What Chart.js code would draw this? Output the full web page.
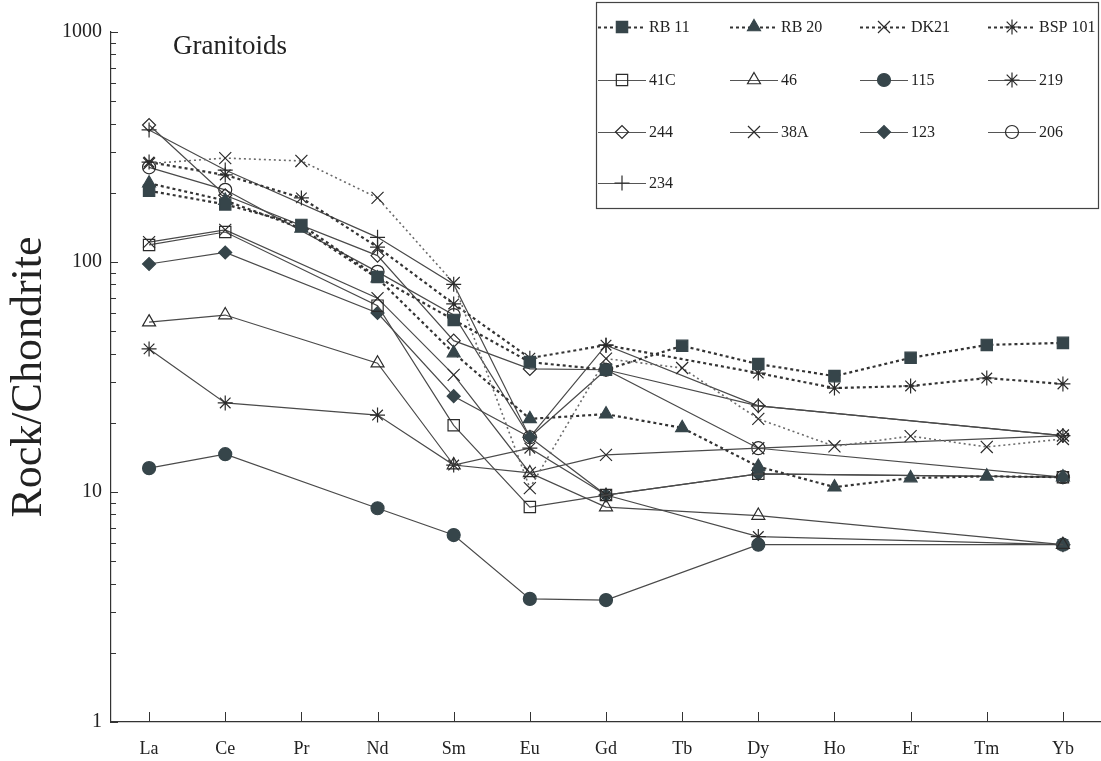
<!DOCTYPE html>
<html>
<head>
<meta charset="utf-8">
<title>Granitoids REE</title>
<script src="https://cdn.jsdelivr.net/npm/chart.js@4/dist/chart.umd.min.js"></script>
<style>
  html, body { margin: 0; padding: 0; background: #fff; }
  #wrap { width: 1101px; height: 761px; }
</style>
</head>
<body>
<div id="wrap"><canvas id="c" width="1101" height="761"></canvas></div>
<script>
// Chondrite-normalised REE abundances
const elements = ['La', 'Ce', 'Pr', 'Nd', 'Sm', 'Eu', 'Gd', 'Tb', 'Dy', 'Ho', 'Er', 'Tm', 'Yb'];
const yTickValues = [1, 10, 100, 1000];

const rb11   = [204, 178, 145, 86, 56, 36.7, 34, 43.2, 36, 31.9, 38.3, 43.6, 44.5];
const rb20   = [220, 185, 140, 85, 40.2, 20.8, 21.8, 19, 12.9, 10.5, 11.5, 11.7, 11.6];
const dk21   = [268, 283, 275, 190, 81, 10.4, 38, 34.6, 20.8, 15.8, 17.5, 15.7, 17.0];
const bsp101 = [272, 239, 190, 116, 65.7, 38.2, 43.5, null, 32.9, 28.3, 28.9, 31.3, 29.5];
const s41C   = [118.6, 135, null, 64.6, 19.5, 8.6, 9.7, null, 12.0, null, null, null, 11.6];
const s46    = [54.8, 58.8, null, 36.3, 13.1, 12.1, 8.6, null, 7.9, null, null, null, 5.9];
const s115   = [12.7, 14.6, null, 8.5, 6.5, 3.43, 3.39, null, 5.9, null, null, null, 5.9];
const s219   = [41.9, 24.4, null, 21.6, 13.1, 15.5, 9.7, null, 6.4, null, null, null, 5.9];
const s244   = [394, 195, null, 106.6, 45.5, 34.3, 34, null, 23.7, null, null, null, 17.6];
const s38A   = [122, 138, null, 69.6, 32.3, 12.1, 14.5, null, 15.5, null, null, null, 17.6];
const s123   = [98, 110, null, 60, 26.1, 17.3, 9.7, null, 12.0, null, null, null, 11.6];
const s206   = [258, 206, null, 90.6, 58.8, 17.3, 34, null, 15.5, null, null, null, 11.6];
const s234   = [375, 251, null, 128, 80, 17.3, 43.5, null, 23.7, null, null, null, 17.6];

const INK = '#36454a';
const LINE = '#4a4a4a';
const SERIF = '"Liberation Serif", "DejaVu Serif", serif';

function series(label, data, opts) {
  const dotted = opts.dotted;
  return {
    label: label,
    data: data,
    spanGaps: true,
    tension: 0,
    borderColor: opts.lineColor || (dotted ? '#333' : LINE),
    borderWidth: opts.lineWidth || (dotted ? 2.2 : 1.2),
    borderDash: dotted ? (opts.dash || [3, 3]) : [],
    pointStyle: opts.shape,
    pointRadius: opts.r,
    pointHoverRadius: opts.r,
    pointBorderWidth: opts.pbw || 1.2,
    pointBorderColor: opts.filled ? INK : '#2b2b2b',
    pointBackgroundColor: opts.filled ? INK : 'rgba(255,255,255,0)',
    fill: false
  };
}

const datasets = [
  series('RB 11', rb11, { dotted: true, shape: 'rect', r: 8, filled: true }),
  series('RB 20', rb20, { dotted: true, shape: 'triangle', r: 7.5, filled: true }),
  series('DK21', dk21, { dotted: true, shape: 'crossRot', r: 8.5, lineColor: '#6a6a6a', lineWidth: 1.6, dash: [2, 3] }),
  series('BSP 101', bsp101, { dotted: true, shape: 'star', r: 7.5 }),
  series('41C', s41C, { shape: 'rect', r: 8 }),
  series('46', s46, { shape: 'triangle', r: 7.5 }),
  series('115', s115, { shape: 'circle', r: 6.5, filled: true }),
  series('219', s219, { shape: 'star', r: 7.5 }),
  series('244', s244, { shape: 'rectRot', r: 6.5 }),
  series('38A', s38A, { shape: 'crossRot', r: 8.5 }),
  series('123', s123, { shape: 'rectRot', r: 6.5, filled: true }),
  series('206', s206, { shape: 'circle', r: 6.5 }),
  series('234', s234, { shape: 'cross', r: 7.5 })
];

// Inside tick marks on both axes, the panel title and the boxed legend
const decorations = {
  id: 'decorations',
  afterDraw(chart) {
    const ctx = chart.ctx;
    const xs = chart.scales.x, ys = chart.scales.y;
    const area = chart.chartArea;
    ctx.save();
    ctx.strokeStyle = '#333';
    ctx.lineWidth = 1;
    // y ticks (log decades with minors)
    for (let d = 1; d < 1000; d *= 10) {
      for (let m = 1; m <= 10; m++) {
        const v = d * m;
        const py = Math.round(ys.getPixelForValue(v)) + 0.5;
        const len = (m === 1 || m === 10) ? 7 : 5;
        ctx.beginPath();
        ctx.moveTo(area.left, py);
        ctx.lineTo(area.left + len, py);
        ctx.stroke();
      }
    }
    // x ticks
    elements.forEach((el, i) => {
      const px = Math.round(xs.getPixelForValue(i)) + 0.5;
      ctx.beginPath();
      ctx.moveTo(px, area.bottom);
      ctx.lineTo(px, area.bottom - 10);
      ctx.stroke();
    });

    // panel title
    ctx.fillStyle = '#222';
    ctx.font = '27px ' + SERIF;
    ctx.textAlign = 'left';
    ctx.textBaseline = 'alphabetic';
    ctx.fillText('Granitoids', 173, 54);

    // legend box
    const bx = 596.5, by = 2.5, bw = 502, bh = 206;
    ctx.fillStyle = '#fff';
    ctx.fillRect(bx, by, bw, bh);
    ctx.strokeStyle = '#444';
    ctx.lineWidth = 1.2;
    ctx.strokeRect(bx, by, bw, bh);
    const colX = [598, 730, 860, 988];
    const rowY = [27, 80, 132, 183];
    chart.data.datasets.forEach((ds, i) => {
      const x0 = colX[i % 4], y0 = rowY[Math.floor(i / 4)];
      ctx.save();
      ctx.strokeStyle = ds.borderDash.length ? '#333' : '#555';
      ctx.lineWidth = ds.borderDash.length ? 2 : 1.2;
      ctx.setLineDash(ds.borderDash.length ? [3, 3] : []);
      ctx.beginPath();
      ctx.moveTo(x0, y0 + 0.5);
      ctx.lineTo(x0 + 48, y0 + 0.5);
      ctx.stroke();
      ctx.restore();
      ctx.save();
      ctx.strokeStyle = ds.pointBorderColor;
      ctx.fillStyle = ds.pointBackgroundColor;
      ctx.lineWidth = ds.pointBorderWidth;
      Chart.helpers.drawPoint(ctx, {
        pointStyle: ds.pointStyle,
        radius: ds.pointRadius,
        rotation: 0,
        borderWidth: ds.pointBorderWidth
      }, x0 + 24, y0);
      ctx.restore();
      ctx.fillStyle = '#222';
      ctx.font = '16px ' + SERIF;
      ctx.textBaseline = 'middle';
      ctx.fillText(ds.label, x0 + 51, y0 + 1);
    });
    ctx.restore();
  }
};

new Chart(document.getElementById('c'), {
  type: 'line',
  data: { labels: elements, datasets: datasets },
  plugins: [decorations],
  options: {
    responsive: false,
    animation: false,
    events: [],
    layout: { autoPadding: false, padding: { top: 32, right: 0, bottom: 0, left: 0 } },
    plugins: {
      legend: { display: false },
      title: { display: false },
      tooltip: { enabled: false }
    },
    scales: {
      x: {
        type: 'category',
        offset: true,
        grid: { display: false, drawTicks: false },
        border: { display: true, color: '#333', width: 1.2 },
        ticks: {
          padding: 16,
          color: '#222',
          font: { family: SERIF, size: 18 },
          maxRotation: 0,
          autoSkip: false
        },
        afterFit(s) { s.height = 39; }
      },
      y: {
        type: 'logarithmic',
        min: 1,
        max: 1000,
        grid: { display: false, drawTicks: false },
        border: { display: true, color: '#333', width: 1.2 },
        afterBuildTicks(s) { s.ticks = yTickValues.map(v => ({ value: v })); },
        ticks: {
          padding: 9,
          color: '#222',
          font: { family: SERIF, size: 20 },
          callback: v => String(v)
        },
        title: {
          display: true,
          text: 'Rock/Chondrite',
          color: '#222',
          font: { family: SERIF, size: 44 },
          padding: { top: 3, bottom: 0 }
        },
        afterFit(s) { s.width = 111; }
      }
    }
  }
});
</script>
</body>
</html>
